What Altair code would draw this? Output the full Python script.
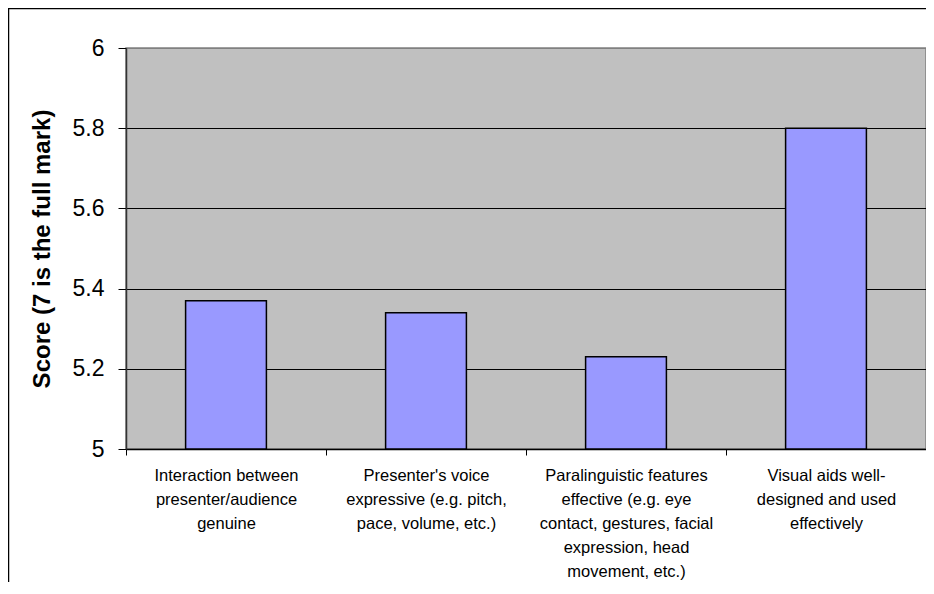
import altair as alt
import pandas as pd

categories = [
    "Interaction between|presenter/audience|genuine",
    "Presenter's voice|expressive (e.g. pitch,|pace, volume, etc.)",
    "Paralinguistic features|effective (e.g. eye|contact, gestures, facial|expression, head|movement, etc.)",
    "Visual aids well-|designed and used|effectively",
]
scores = [5.37, 5.34, 5.23, 5.80]
y_ticks = [5.0, 5.2, 5.4, 5.6, 5.8, 6.0]
baseline = 5.0

df = pd.DataFrame({"item": categories, "score": scores})

FONT = "Liberation Sans"

bars = alt.Chart(df).mark_bar(
    color="#9999FF", stroke="black", strokeWidth=1.5, width=alt.RelativeBandSize(0.404)
).encode(
    x=alt.X(
        "item:N",
        sort=categories,
        scale=alt.Scale(paddingInner=0, paddingOuter=0),
        axis=alt.Axis(
            title=None,
            labelAngle=0,
            labelExpr="split(datum.label, '|')",
            labelFont=FONT,
            labelFontSize=16.5,
            labelLineHeight=24,
            labelColor="black",
            labelPadding=12,
            labelBaseline="top",
            tickBand="extent",
            tickColor="black",
            tickSize=6,
            domainColor="black",
            domainWidth=1.5,
            grid=False,
        ),
    ),
    y=alt.Y(
        "score:Q",
        scale=alt.Scale(domain=[5, 6], zero=False, nice=False),
        axis=alt.Axis(
            title="Score (7 is the full mark)",
            titleFont=FONT,
            titleFontSize=24,
            titleFontWeight="bold",
            titleColor="black",
            titlePadding=18,
            values=y_ticks,
            format=".1~f",
            labelFont=FONT,
            labelFontSize=23,
            labelColor="black",
            labelPadding=14,
            tickColor="black",
            tickSize=8,
            domainColor="#333333",
            domainWidth=1.5,
            grid=True,
            gridColor={"condition": {"test": "datum.value >= 6", "value": "#808080"}, "value": "black"},
            gridWidth=1,
        ),
    ),
    y2=alt.Y2(datum=baseline),
)

frame = alt.Chart(pd.DataFrame({"a": [0]})).mark_rect(
    fill=None, stroke="black", strokeWidth=1.5
).encode(
    x=alt.value(-117.5), x2=alt.value(1000),
    y=alt.value(-39.5), y2=alt.value(1000),
)

chart = alt.layer(bars, frame).properties(
    width=800,
    height=401,
    autosize=alt.AutoSizeParams(type="none"),
    padding={"left": 118, "top": 40, "right": 0, "bottom": 133},
    background="white",
).configure_view(
    fill="#C0C0C0", stroke="#808080", strokeWidth=1.5
)

chart.save("out.html", embed_options={"renderer": "svg", "actions": False})
